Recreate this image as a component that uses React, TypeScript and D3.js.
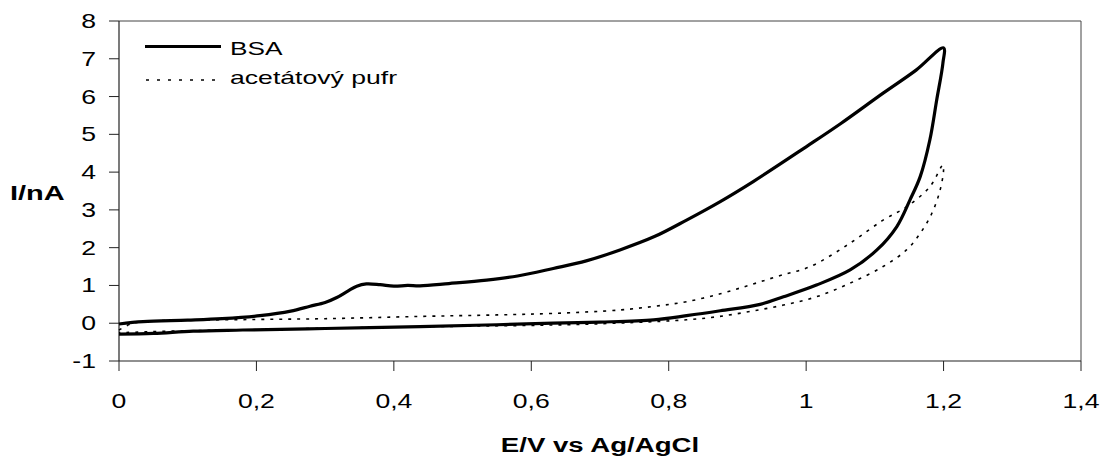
import React from "react";
import * as d3 from "d3";

const xTicks = [0, 0.2, 0.4, 0.6, 0.8, 1.0, 1.2, 1.4];
const xTickLabels = ["0", "0,2", "0,4", "0,6", "0,8", "1", "1,2", "1,4"];
const yTicks = [-1, 0, 1, 2, 3, 4, 5, 6, 7, 8];
const yTickLabels = ["-1", "0", "1", "2", "3", "4", "5", "6", "7", "8"];

// BSA cyclic voltammogram: forward then reverse scan
const bsaE = [
  0, 0.035, 0.1, 0.15, 0.205, 0.25, 0.278, 0.3, 0.317, 0.333, 0.346, 0.36, 0.38, 0.4, 0.42, 0.438,
  0.48, 0.535, 0.58, 0.632, 0.68, 0.729, 0.78, 0.826, 0.875, 0.923, 1.0, 1.05, 1.112, 1.16, 1.2,
  1.199, 1.19, 1.18, 1.166, 1.151, 1.132, 1.103, 1.064, 1.015, 0.967, 0.933, 0.875, 0.826, 0.778,
  0.7, 0.632, 0.55, 0.438, 0.3, 0.18, 0.108, 0.05, 0,
];
const bsaI = [
  -0.02, 0.04, 0.08, 0.12, 0.2, 0.32, 0.45, 0.55, 0.68, 0.85, 0.98, 1.04, 1.02, 0.98, 1.0, 0.99,
  1.05, 1.14, 1.25, 1.45, 1.65, 1.94, 2.3, 2.73, 3.22, 3.75, 4.67, 5.28, 6.09, 6.7, 7.29,
  6.88, 5.91, 4.85, 3.88, 3.26, 2.56, 1.94, 1.41, 1.01, 0.7, 0.5, 0.33, 0.2, 0.09,
  0.03, 0.0, -0.04, -0.09, -0.14, -0.18, -0.21, -0.27, -0.29,
];

// Acetate buffer voltammogram
const acetE = [
  0, 0.02, 0.05, 0.1, 0.2, 0.3, 0.438, 0.55, 0.632, 0.729, 0.78, 0.826, 0.875, 0.918, 0.96, 1.006,
  1.064, 1.112, 1.146, 1.18, 1.199,
  1.2, 1.195, 1.183, 1.166, 1.146, 1.112, 1.064, 1.015, 0.967, 0.918, 0.87, 0.826, 0.75, 0.65, 0.5,
  0.4, 0.2, 0.1, 0,
];
const acetI = [
  -0.18, 0.0, 0.06, 0.08, 0.1, 0.12, 0.18, 0.22, 0.26, 0.35, 0.45, 0.57, 0.78, 1.01, 1.25, 1.5,
  2.12, 2.73, 3.08, 3.61, 4.19,
  4.06, 3.53, 2.91, 2.38, 1.94, 1.5, 1.06, 0.7, 0.48, 0.31, 0.17, 0.09, 0.02, -0.04, -0.08,
  -0.1, -0.17, -0.2, -0.25,
];

const W = 1104;
const H = 459;
const left = 119;
const right = 1081;
const top = 21;
const bottom = 361;
const FONT = "Arial, 'Liberation Sans', sans-serif";

function T({ x, y, anchor = "start", size = 20, bold = false, sx = 1.33, children }: any) {
  return (
    <text
      transform={`translate(${x},${y}) scale(${sx},1)`}
      textAnchor={anchor}
      fontFamily={FONT}
      fontSize={size}
      fontWeight={bold ? "bold" : "normal"}
      fill="#000"
    >
      {children}
    </text>
  );
}

export default function App() {
  const x = d3.scaleLinear().domain([0, 1.4]).range([left, right]);
  const y = d3.scaleLinear().domain([-1, 8]).range([bottom, top]);
  const line = d3
    .line<[number, number]>()
    .x((d) => x(d[0]))
    .y((d) => y(d[1]))
    .curve(d3.curveCatmullRom.alpha(0.5));
  const bsa = bsaE.map((e, i) => [e, bsaI[i]] as [number, number]);
  const acet = acetE.map((e, i) => [e, acetI[i]] as [number, number]);

  return (
    <svg
      width={W}
      height={H}
      style={{ position: "fixed", left: 0, top: 0, background: "#fff" }}
    >
      <rect x={0} y={0} width={W} height={H} fill="#fff" />
      {/* frame */}
      <line x1={left} x2={right} y1={top} y2={top} stroke="#444" strokeWidth={1} />
      <line x1={right} x2={right} y1={top} y2={bottom} stroke="#444" strokeWidth={1} />
      <line x1={left} x2={right} y1={bottom} y2={bottom} stroke="#222" strokeWidth={1.2} />
      <line x1={left} x2={left} y1={top} y2={bottom} stroke="#222" strokeWidth={1.2} />
      {/* y ticks */}
      {yTicks.map((t, i) => (
        <g key={"y" + t}>
          <line x1={left - 10} x2={left} y1={y(t)} y2={y(t)} stroke="#222" />
          <T x={96} y={y(t) + 7} anchor="end">
            {yTickLabels[i]}
          </T>
        </g>
      ))}
      {/* x ticks */}
      {xTicks.map((t, i) => (
        <g key={"x" + t}>
          <line x1={x(t)} x2={x(t)} y1={bottom} y2={bottom + 10} stroke="#222" />
          <T x={x(t)} y={408} anchor="middle">
            {xTickLabels[i]}
          </T>
        </g>
      ))}
      {/* axis titles */}
      <T x={(left + right) / 2} y={452} anchor="middle" size={20} bold sx={1.38}>
        E/V vs Ag/AgCl
      </T>
      <T x={10} y={200} size={20} bold sx={1.45}>
        I/nA
      </T>
      {/* series */}
      <path
        d={line(acet) || ""}
        fill="none"
        stroke="#000"
        strokeWidth={1.6}
        strokeDasharray="3 6"
      />
      <path
        d={line(bsa) || ""}
        fill="none"
        stroke="#000"
        strokeWidth={3.2}
        strokeLinejoin="round"
      />
      {/* legend */}
      <line x1={145} x2={221} y1={46.5} y2={46.5} stroke="#000" strokeWidth={3.2} />
      <T x={230} y={55} size={19} sx={1.38}>
        BSA
      </T>
      <line
        x1={146}
        x2={221}
        y1={80}
        y2={80}
        stroke="#000"
        strokeWidth={1.6}
        strokeDasharray="3 8"
      />
      <T x={230} y={84} size={19} sx={1.4}>
        acetátový pufr
      </T>
    </svg>
  );
}
